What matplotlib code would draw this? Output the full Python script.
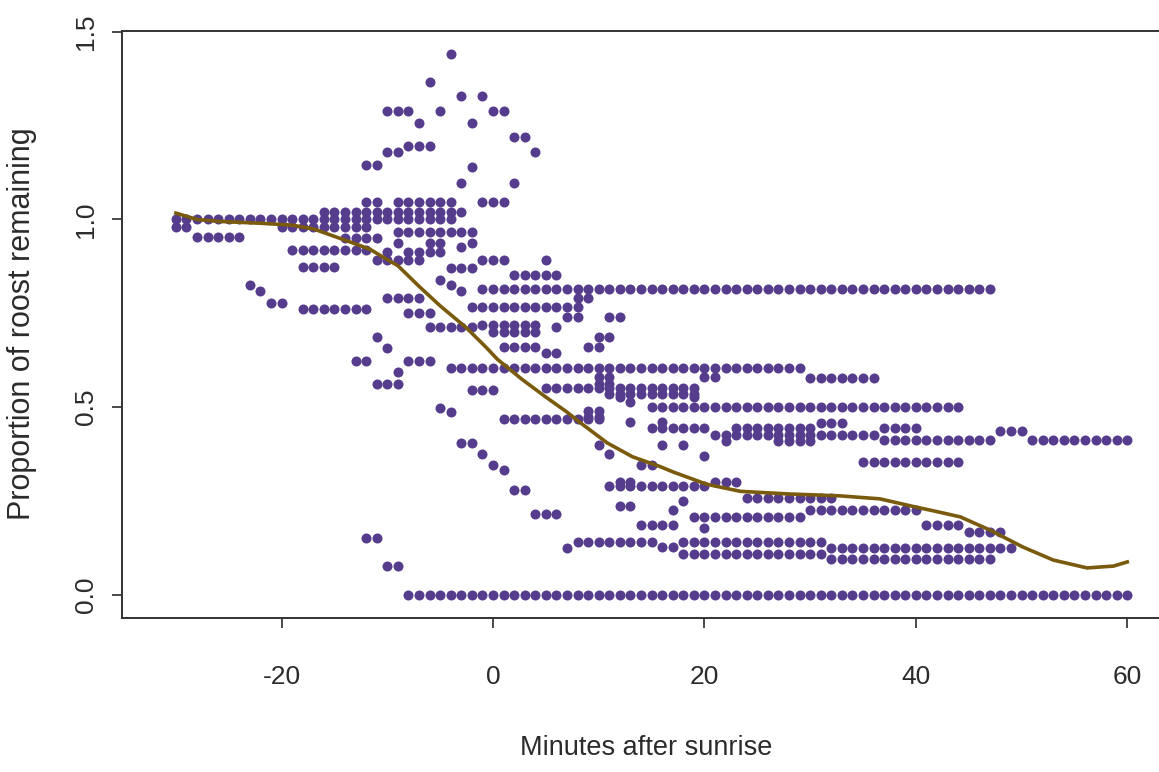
import numpy as np
import matplotlib
matplotlib.use("Agg")
import matplotlib.pyplot as plt

plt.rcParams['font.family'] = ['Liberation Sans', 'DejaVu Sans']
plt.rcParams['axes.unicode_minus'] = False

# runs of roost counts: a roost keeps the same proportion over consecutive minutes
# (first minute, last minute, proportion remaining)
run_start = [-4, -6, -3, -1, -10, -5, 0, -7, -2, 2, -8, -10, 4, -12, -2, -3, 2,
             -12, -9, -1, -16, -30, -30, -20, -9, -28, -14, -9, -6, -2, -3, -19,
             -10, -8, -11, -1, 5, -4, -18, 2, -5, -23, -4, -22, -3, -1, -10, 8,
             -21, -2, -18, -8, 7, 11, -1, -6, 6, 0, -11, 10, 1, 9, -10, 5, -13,
             -8, -4, 10, 20, 30, -9, -11, 10, 5, 11, -2, 12, 19, 13, 15, -5, -4,
             9, 9, 1, 13, 16, 31, 15, 23, 37, 48, 21, 37, 51, 22, 27, -3, 10, 16,
             18, -1, 11, 20, 35, 0, 14, 1, 11, 12, 21, 2, 24, 12, 18, 17, 30, 4,
             19, 14, 41, 20, 45, -12, 8, 18, 16, 7, 32, 18, 32, -10, -8]
run_end = [-4, -6, -3, -1, -8, -5, 1, -7, -2, 3, -6, -9, 4, -11, -2, -3, 2,
           -11, -4, 1, -3, -4, -29, -12, -2, -24, -11, -9, -5, -2, -3, -12,
           -10, -5, -7, 1, 5, -2, -15, 6, -5, -23, -4, -22, -3, 47, -7, 9,
           -20, 8, -12, -6, 8, 12, 4, -2, 6, 4, -11, 11, 4, 10, -10, 6, -12,
           -6, 29, 11, 21, 36, -9, -9, 11, 19, 19, 0, 12, 19, 13, 44, -5, -4,
           10, 10, 10, 13, 16, 33, 20, 30, 40, 50, 36, 47, 60, 22, 30, -2, 10,
           16, 18, -1, 11, 20, 44, 0, 15, 1, 20, 13, 23, 3, 32, 13, 18, 17, 40,
           6, 29, 17, 44, 20, 48, -11, 15, 31, 17, 7, 49, 31, 47, -9, 60]
run_value = [1.44, 1.366, 1.33, 1.33, 1.29, 1.29, 1.29, 1.257, 1.257, 1.22,
             1.196, 1.18, 1.18, 1.145, 1.14, 1.097, 1.097, 1.047, 1.047, 1.047,
             1.02, 1.0, 0.98, 0.98, 0.967, 0.953, 0.95, 0.937, 0.937, 0.937,
             0.927, 0.92, 0.913, 0.913, 0.892, 0.892, 0.892, 0.87, 0.873, 0.852,
             0.839, 0.826, 0.826, 0.81, 0.81, 0.815, 0.79, 0.79, 0.778, 0.767,
             0.762, 0.751, 0.74, 0.74, 0.72, 0.714, 0.714, 0.70, 0.687, 0.687,
             0.66, 0.66, 0.657, 0.644, 0.623, 0.623, 0.605, 0.58, 0.58, 0.578,
             0.594, 0.562, 0.562, 0.55, 0.535, 0.546, 0.527, 0.527, 0.514, 0.5,
             0.498, 0.487, 0.49, 0.475, 0.47, 0.46, 0.46, 0.458, 0.445, 0.445,
             0.445, 0.437, 0.425, 0.413, 0.413, 0.41, 0.41, 0.405, 0.40, 0.40,
             0.40, 0.375, 0.375, 0.37, 0.354, 0.346, 0.346, 0.333, 0.29, 0.30,
             0.30, 0.28, 0.258, 0.237, 0.25, 0.226, 0.226, 0.216, 0.208, 0.186,
             0.186, 0.178, 0.168, 0.152, 0.141, 0.14, 0.128, 0.125, 0.125, 0.11,
             0.096, 0.077, 0.0]

# smoothed trend
trend_x = [-30, -28, -26, -22, -19, -17, -15, -13, -11.6, -10, -9, -7, -5, -2.5,
           -0.6, 0.4, 2.8, 5, 7, 8.2, 10.8, 13.2, 15.8, 17, 20.2, 23.4, 28, 32.8,
           36.6, 39.7, 42, 44.2, 47, 50.1, 53, 56.2, 58.7, 60]
trend_y = [1.017, 1.0, 0.995, 0.99, 0.985, 0.975, 0.955, 0.935, 0.92, 0.893,
           0.877, 0.822, 0.77, 0.711, 0.658, 0.628, 0.573, 0.527, 0.487, 0.46,
           0.405, 0.368, 0.342, 0.328, 0.295, 0.276, 0.269, 0.264, 0.256, 0.236,
           0.222, 0.208, 0.173, 0.128, 0.093, 0.072, 0.077, 0.088]

xs, ys = [], []
for a, b, v in zip(run_start, run_end, run_value):
    for m in range(a, b + 1):
        xs.append(m)
        ys.append(v)

W, H = 1159, 772
fig = plt.figure(figsize=(W / 100, H / 100), dpi=100)
ax = fig.add_axes([122 / W, 154 / H, (W - 122) / W, 587 / H])

ax.scatter(xs, ys, s=52, color='#553c8c', linewidths=0, zorder=2)
ax.plot(trend_x, trend_y, color='#7a5a0c', lw=2.6, zorder=3)

ax.set_xlim(-35.1, 63.0)
ax.set_ylim(-0.0613, 1.502)

ax.set_xticks([-20, 0, 20, 40, 60])
ax.set_yticks([0.0, 0.5, 1.0, 1.5])
ax.set_yticklabels(['0.0', '0.5', '1.0', '1.5'], rotation=90, va='center')
ax.tick_params(axis='both', labelsize=19, length=7.5, width=1.2,
               colors='#2b2b2b')
ax.tick_params(axis='x', pad=26)
ax.tick_params(axis='y', pad=10)

for side in ['left', 'bottom', 'top']:
    ax.spines[side].set_linewidth(1.4)
    ax.spines[side].set_color('#333333')
ax.spines['right'].set_visible(False)

fig.text(646 / W, 1 - 748 / H, 'Minutes after sunrise', fontsize=19.5,
         color='#2b2b2b', ha='center', va='center')
fig.text(22 / W, 1 - 324 / H, 'Proportion of roost remaining', fontsize=22,
         color='#2b2b2b', ha='center', va='center', rotation=90)

fig.savefig('out.png', dpi=100)
